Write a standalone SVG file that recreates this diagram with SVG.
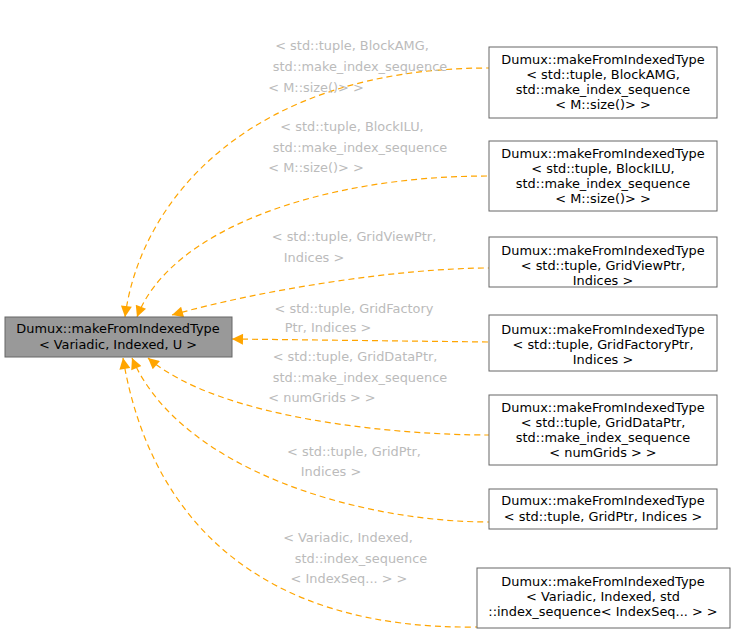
<svg xmlns="http://www.w3.org/2000/svg" width="735" height="635" viewBox="0 0 735 635">
<style>
text{font-family:"DejaVu Sans",sans-serif;font-size:12.9px;text-anchor:middle}
.n rect{fill:#fff;stroke:#666;stroke-width:1}
.l{fill:#bbb}
.e path{fill:none;stroke:#ffa500;stroke-dasharray:6,4;stroke-width:1.2;marker-start:url(#a)}
</style>
<defs><marker id="a" viewBox="0 0 10 10" refX="0" refY="5" markerWidth="13" markerHeight="11" markerUnits="userSpaceOnUse" orient="auto"><path d="M0,5L10,0L10,10z" fill="#ffa500"/></marker></defs>
<rect width="735" height="635" fill="#fff"/>
<g class="e">
<path d="M125,317C140,200 250,68 489,68"/>
<path d="M137,317C170,230 320,176 489,176"/>
<path d="M172,315C260,290 400,268 489,268"/>
<path d="M232,339L489,342"/>
<path d="M148,358C220,420 400,435 489,435"/>
<path d="M132,358C180,470 360,522 489,522"/>
<path d="M123,358C150,520 260,630 477,627"/>
</g>
<g class="l">
<text x="352" y="50">&lt; std::tuple, BlockAMG,</text><text x="360" y="71">std::make_index_sequence</text><text x="316" y="92">&lt; M::size()&gt; &gt;</text>
<text x="352" y="131">&lt; std::tuple, BlockILU,</text><text x="360" y="152">std::make_index_sequence</text><text x="316" y="172">&lt; M::size()&gt; &gt;</text>
<text x="354" y="241">&lt; std::tuple, GridViewPtr,</text><text x="314" y="262">Indices &gt;</text>
<text x="354" y="313">&lt; std::tuple, GridFactory</text><text x="328" y="332">Ptr, Indices &gt;</text>
<text x="355" y="361">&lt; std::tuple, GridDataPtr,</text><text x="360" y="382">std::make_index_sequence</text><text x="322" y="402">&lt; numGrids &gt; &gt;</text>
<text x="354" y="456">&lt; std::tuple, GridPtr,</text><text x="331" y="476">Indices &gt;</text>
<text x="348" y="542">&lt; Variadic, Indexed,</text><text x="361" y="563">std::index_sequence</text><text x="349" y="583">&lt; IndexSeq... &gt; &gt;</text>
</g>
<g id="main" class="n"><rect x="5" y="317" width="227" height="40" style="fill:#999"/><text x="118" y="333">Dumux::makeFromIndexedType</text><text x="118" y="349">&lt; Variadic, Indexed, U &gt;</text></g>
<g id="n1" class="n"><rect x="489" y="47" width="228" height="71"/><text x="603" y="64">Dumux::makeFromIndexedType</text><text x="603" y="79">&lt; std::tuple, BlockAMG,</text><text x="603" y="94">std::make_index_sequence</text><text x="603" y="109">&lt; M::size()&gt; &gt;</text></g>
<g id="n2" class="n"><rect x="489" y="141" width="228" height="70"/><text x="603" y="158">Dumux::makeFromIndexedType</text><text x="603" y="173">&lt; std::tuple, BlockILU,</text><text x="603" y="188">std::make_index_sequence</text><text x="603" y="203">&lt; M::size()&gt; &gt;</text></g>
<g id="n3" class="n"><rect x="489" y="237" width="228" height="50"/><text x="603" y="255">Dumux::makeFromIndexedType</text><text x="603" y="270">&lt; std::tuple, GridViewPtr,</text><text x="603" y="285">Indices &gt;</text></g>
<g id="n4" class="n"><rect x="489" y="315" width="228" height="56"/><text x="603" y="334">Dumux::makeFromIndexedType</text><text x="603" y="349">&lt; std::tuple, GridFactoryPtr,</text><text x="603" y="364">Indices &gt;</text></g>
<g id="n5" class="n"><rect x="489" y="395" width="228" height="70"/><text x="603" y="412">Dumux::makeFromIndexedType</text><text x="603" y="427">&lt; std::tuple, GridDataPtr,</text><text x="603" y="442">std::make_index_sequence</text><text x="603" y="457">&lt; numGrids &gt; &gt;</text></g>
<g id="n6" class="n"><rect x="489" y="489" width="228" height="40"/><text x="603" y="505">Dumux::makeFromIndexedType</text><text x="603" y="521">&lt; std::tuple, GridPtr, Indices &gt;</text></g>
<g id="n7" class="n"><rect x="477" y="568" width="253" height="60"/><text x="603" y="586">Dumux::makeFromIndexedType</text><text x="603" y="601">&lt; Variadic, Indexed, std</text><text x="603" y="616">::index_sequence&lt; IndexSeq... &gt; &gt;</text></g>
</svg>
